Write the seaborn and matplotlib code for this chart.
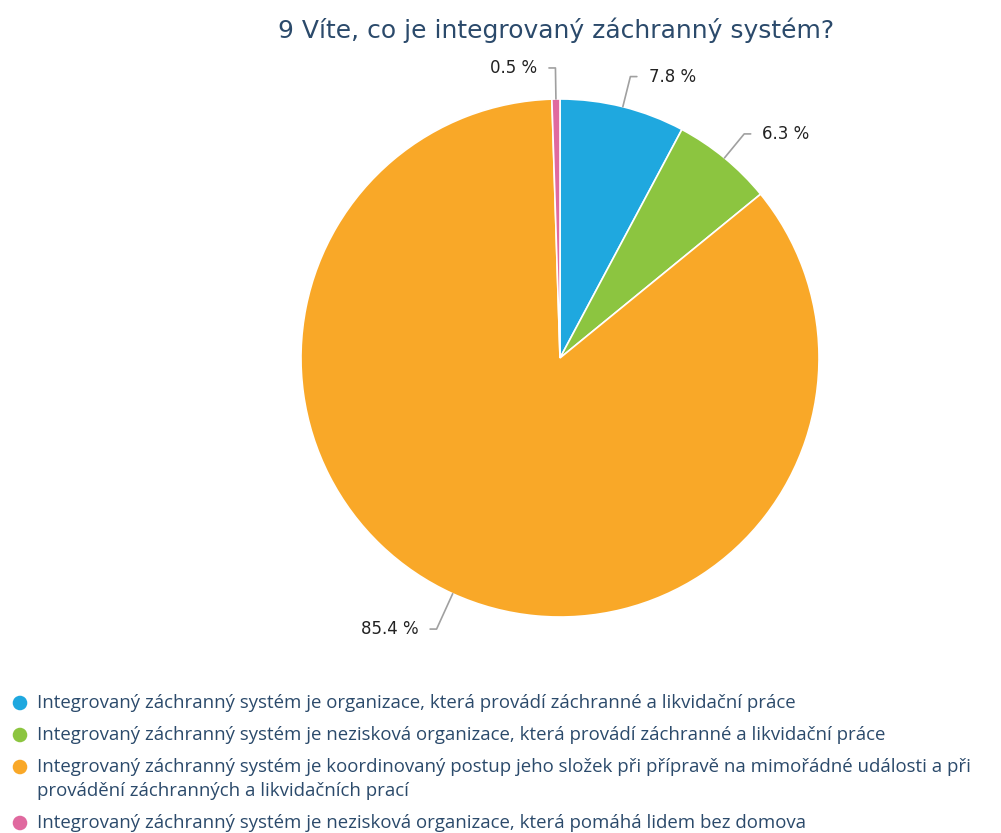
import numpy as np
import matplotlib
matplotlib.use("Agg")
import matplotlib.pyplot as plt
import seaborn as sns

# data
title = "9 Víte, co je integrovaný záchranný systém?"
answers = [
    "Integrovaný záchranný systém je organizace, která provádí záchranné a likvidační práce",
    "Integrovaný záchranný systém je nezisková organizace, která provádí záchranné a likvidační práce",
    "Integrovaný záchranný systém je koordinovaný postup jeho složek při přípravě na mimořádné události a při\nprovádění záchranných a likvidačních prací",
    "Integrovaný záchranný systém je nezisková organizace, která pomáhá lidem bez domova",
]
shares = [7.8, 6.3, 85.4, 0.5]
colors = ["#1fa8df", "#8cc540", "#f9a828", "#e0699f"]

sns.set_theme(style="white")
plt.rcParams['font.family'] = ['Open Sans', 'DejaVu Sans']

W, H = 1001, 833
fig = plt.figure(figsize=(W / 100, H / 100), dpi=100)
text_col = "#2b4a6b"

# pie: centre (560, 358), radius 259 px
cx, cy, r = 560, 358, 259
ax = fig.add_axes([(cx - r) / W, (H - cy - r) / H, 2 * r / W, 2 * r / H])
wedges, _ = ax.pie(shares, colors=colors, startangle=90, counterclock=False,
                   radius=1, wedgeprops=dict(edgecolor="white", linewidth=1.2))
ax.set_xlim(-1, 1)
ax.set_ylim(-1, 1)
ax.set_aspect("equal")
ax.axis("off")

# labels with elbow leader lines
for w, val in zip(wedges, shares):
    mid = np.deg2rad((w.theta1 + w.theta2) / 2)
    x0, y0 = np.cos(mid), np.sin(mid)
    k = 1.12 if y0 > 0 else 1.15
    x1, y1 = k * x0, k * y0
    side = 1 if x0 >= 0.05 else -1
    x2 = x1 + side * 0.025
    ax.plot([x0, x1, x2], [y0, y1, y1], color="#a0a0a0", lw=1.2, clip_on=False)
    ax.text(x2 + side * 0.045, y1, f"{val} %", ha="left" if side > 0 else "right",
            va="center", fontsize=12, color="#222222", family=['DejaVu Sans'])

fig.text(556 / W, 1 - 30 / H, title, ha="center", va="center",
         fontsize=18, color=text_col, family=['DejaVu Sans'])

# legend drawn below the pie
leg = fig.add_axes([0, 0, 1, 1], zorder=-1)
ys = [703, 735, 767, 823]
sns.scatterplot(x=[20] * len(ys), y=ys, hue=answers, palette=colors, s=110,
                legend=False, ax=leg, edgecolor="none")
leg.set_xlim(0, W)
leg.set_ylim(H, 0)
leg.axis("off")
for y, lab in zip(ys, answers):
    leg.text(37, y - 9, lab, ha="left", va="top", fontsize=13.4,
             color=text_col, linespacing=1.4)

fig.savefig("out.png", dpi=100)
